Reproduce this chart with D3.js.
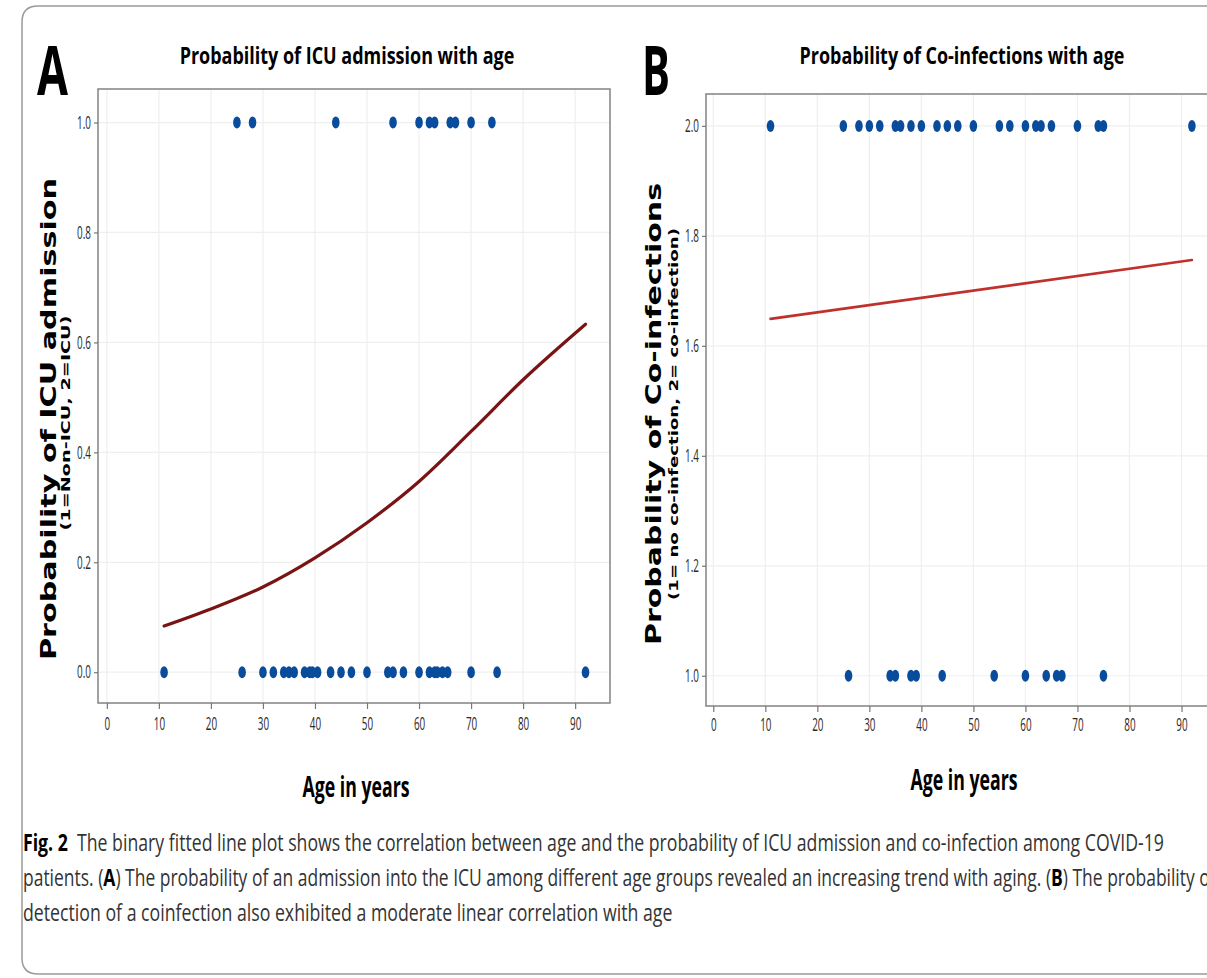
<!DOCTYPE html>
<html><head><meta charset="utf-8">
<script src="https://cdn.jsdelivr.net/npm/d3@7"></script>
<style>body{margin:0;background:#fff;overflow:hidden;} svg{display:block;}</style>
</head><body>
<script>
// ---------- data ----------
const agesA_icu = [25, 28, 44, 55, 60, 62, 63, 66, 67, 70, 74];
const agesA_nonIcu = [11, 26, 30, 32, 34, 35, 36, 38, 39, 39.5, 40.5, 43, 45, 47, 50, 54, 55, 57, 60, 62, 63, 63.5, 64.5, 65.5, 70, 75, 92];
const fitAgesA = [11, 20, 30, 40, 50, 60, 70, 80, 92];
const fitProbA = [0.084, 0.115, 0.155, 0.208, 0.272, 0.347, 0.438, 0.532, 0.633];
const agesB_coInf = [11, 25, 28, 30, 32, 35, 36, 38, 40, 43, 45, 47, 50, 55, 57, 60, 62, 63, 65, 70, 74, 75, 92];
const agesB_noCoInf = [26, 34, 35, 38, 39, 44, 54, 60, 64, 66, 67, 75];
const fitAgesB = [11, 92];
const fitValsB = [1.649, 1.756];
const xTickValues = [0, 10, 20, 30, 40, 50, 60, 70, 80, 90];
const yTicksA = [0, 0.2, 0.4, 0.6, 0.8, 1.0];
const yTicksB = [1.0, 1.2, 1.4, 1.6, 1.8, 2.0];

const W = 1207, H = 978;
const svg = d3.select("body").append("svg").attr("width", W).attr("height", H);

const CF = "'Open Sans', 'Noto Sans', sans-serif";
function squeeze(sel, factor) {
  sel.each(function () {
    const w = this.getComputedTextLength();
    this.setAttribute("textLength", w * factor);
    this.setAttribute("lengthAdjust", "spacingAndGlyphs");
  });
}
function fitWidth(sel, width) {
  sel.attr("textLength", width).attr("lengthAdjust", "spacingAndGlyphs");
}
// horizontally scaled text (condensed look) whose real box is the target width
function condensedText(parent, str, cx, y, width, size, anchor) {
  const t = parent.append("text").attr("x", 0).attr("y", 0).attr("text-anchor", anchor || "middle")
    .text(str).attr("font-family", CF).attr("font-weight", 700).attr("font-size", size).attr("fill", "#000");
  const w = t.node().getComputedTextLength();
  t.attr("transform", `translate(${cx},${y}) scale(${width / w},1)`);
  return t;
}

// outer figure frame
svg.append("path")
  .attr("d", "M1220,6 L38,6 Q22,6 22,22 L22,958 Q22,974 38,974 L1220,974")
  .attr("fill", "none").attr("stroke", "#9a9a9a").attr("stroke-width", 1.5);

const dotColor = "#0a4c9c";

function panel(cfg) {
  const g = svg.append("g");
  const x = d3.scaleLinear().domain(cfg.xDom).range([cfg.left, cfg.right]);
  const y = d3.scaleLinear().domain(cfg.yDom).range([cfg.bottom, cfg.top]);
  // gridlines
  g.append("g").selectAll("line").data(xTickValues).join("line")
    .attr("x1", d => x(d)).attr("x2", d => x(d)).attr("y1", cfg.top).attr("y2", cfg.bottom)
    .attr("stroke", "#efefef").attr("stroke-width", 1.2);
  g.append("g").selectAll("line").data(cfg.yTicks).join("line")
    .attr("x1", cfg.left).attr("x2", cfg.right).attr("y1", d => y(d)).attr("y2", d => y(d))
    .attr("stroke", "#efefef").attr("stroke-width", 1.2);
  // frame
  g.append("rect").attr("x", cfg.left).attr("y", cfg.top)
    .attr("width", cfg.right - cfg.left).attr("height", cfg.bottom - cfg.top)
    .attr("fill", "none").attr("stroke", "#8a8a8a").attr("stroke-width", 1.6);
  // axes
  const xa = g.append("g").attr("transform", `translate(0,${cfg.bottom})`)
    .call(d3.axisBottom(x).tickValues(xTickValues).tickSize(6).tickPadding(cfg.xPad).tickFormat(d3.format("d")));
  const ya = g.append("g").attr("transform", `translate(${cfg.left},0)`)
    .call(d3.axisLeft(y).tickValues(cfg.yTicks).tickSize(4).tickPadding(3).tickFormat(d3.format(".1f")));
  [xa, ya].forEach(a => {
    a.select(".domain").remove();
    a.selectAll(".tick line").attr("stroke", "#777").attr("stroke-width", 1.2);
    a.selectAll(".tick text").attr("fill", "#2a2a2a").attr("font-family", CF).attr("font-size", 18);
    squeeze(a.selectAll(".tick text"), 0.55);
  });
  // points
  g.append("g").selectAll("ellipse").data(cfg.top1).join("ellipse")
    .attr("cx", d => x(d)).attr("cy", y(cfg.hiVal)).attr("rx", 3.8).attr("ry", 6)
    .attr("fill", dotColor);
  g.append("g").selectAll("ellipse").data(cfg.bot0).join("ellipse")
    .attr("cx", d => x(d)).attr("cy", y(cfg.loVal)).attr("rx", 3.8).attr("ry", 6)
    .attr("fill", dotColor);
  // fit
  const pts = cfg.fitX.map((a, i) => [a, cfg.fitY[i]]);
  g.append("path").datum(pts)
    .attr("d", d3.line().x(d => x(d[0])).y(d => y(d[1])).curve(d3.curveMonotoneX))
    .attr("fill", "none").attr("stroke", cfg.fitColor).attr("stroke-width", cfg.fitWidth)
    .attr("stroke-linecap", "round");
  // panel letter
  condensedText(g, cfg.letter, cfg.letterX, 95, cfg.letterW, 68, "start");
  // title
  condensedText(g, cfg.title, cfg.titleX, 64, cfg.titleW, 24, "middle");
  // x title
  condensedText(g, "Age in years", cfg.xTitleX, cfg.xTitleY, 107, 29, "middle");
  // y titles
  const YT = g.append("text").attr("transform", `translate(${cfg.yTitleX},${cfg.yTitleC}) rotate(-90)`)
    .attr("text-anchor", "middle").text(cfg.yTitle)
    .attr("font-family", "'DejaVu Sans', sans-serif").attr("font-weight", 700).attr("font-size", 21).attr("fill", "#000");
  fitWidth(YT, cfg.yTitleW);
  const YS = g.append("text").attr("transform", `translate(${cfg.ySubX},${cfg.ySubC}) rotate(-90)`)
    .attr("text-anchor", "middle").text(cfg.ySub)
    .attr("font-family", "'DejaVu Sans', sans-serif").attr("font-weight", 700).attr("font-size", 11.5).attr("fill", "#000");
  fitWidth(YS, cfg.ySubW);
}

panel({
  xDom: [-1.7, 96.7], left: 98, right: 610,
  yDom: [-0.056, 1.061], top: 89, bottom: 703,
  yTicks: yTicksA, hiVal: 1, loVal: 0, xPad: 8,
  top1: agesA_icu, bot0: agesA_nonIcu,
  fitX: fitAgesA, fitY: fitProbA, fitColor: "#7a1414", fitWidth: 3.2,
  letter: "A", letterX: 37, letterW: 31,
  title: "Probability of ICU admission with age", titleX: 347, titleW: 335,
  xTitleX: 356, xTitleY: 797,
  yTitle: "Probability of ICU admission", yTitleX: 56, yTitleC: 419, yTitleW: 482,
  ySub: "(1=Non-ICU, 2=ICU)", ySubX: 70, ySubC: 423, ySubW: 215
});

panel({
  xDom: [-1.4, 97.4], left: 706, right: 1220,
  yDom: [0.945, 2.058], top: 94, bottom: 706,
  yTicks: yTicksB, hiVal: 2, loVal: 1, xPad: 6,
  top1: agesB_coInf, bot0: agesB_noCoInf,
  fitX: fitAgesB, fitY: fitValsB, fitColor: "#c0302c", fitWidth: 2.6,
  letter: "B", letterX: 642, letterW: 28,
  title: "Probability of Co-infections with age", titleX: 962, titleW: 325,
  xTitleX: 964, xTitleY: 790,
  yTitle: "Probability of Co-infections", yTitleX: 661, yTitleC: 414, yTitleW: 462,
  ySub: "(1= no co-infection, 2= co-infection)", ySubX: 678, ySubC: 414, ySubW: 372
});

// ---------- caption ----------
// each line: the parts, and the x where the measured prefix (all but the last `tail` chars) must end
const captionLines = [
  { y: 851, end: 1165, tail: "", parts: [["Fig. 2", 700, "#000"], ["  The binary fitted line plot shows the correlation between age and the probability of ICU admission and co-infection among COVID-19", 400, "#333"]] },
  { y: 886, end: 1211, tail: "f", parts: [["patients. (", 400, "#333"], ["A", 700, "#000"], [") The probability of an admission into the ICU among different age groups revealed an increasing trend with aging. (", 400, "#333"], ["B", 700, "#000"], [") The probability of", 400, "#333"]] },
  { y: 921, end: 673, tail: "", parts: [["detection of a coinfection also exhibited a moderate linear correlation with age", 400, "#333"]] }
];
captionLines.forEach(line => {
  const t = svg.append("text").attr("x", 0).attr("y", 0)
    .attr("font-family", CF).attr("font-size", 23)
    .style("white-space", "pre");
  line.parts.forEach(p => {
    t.append("tspan").text(p[0]).attr("font-weight", p[1]).attr("fill", p[2]);
  });
  const full = t.node().getComputedTextLength();
  const nChars = t.node().getNumberOfChars();
  let w = full;
  if (line.tail.length) {
    w = t.node().getStartPositionOfChar(nChars - line.tail.length).x;
  }
  t.attr("transform", `translate(23,${line.y}) scale(${(line.end - 23) / w},1)`);
});
</script>
</body></html>
